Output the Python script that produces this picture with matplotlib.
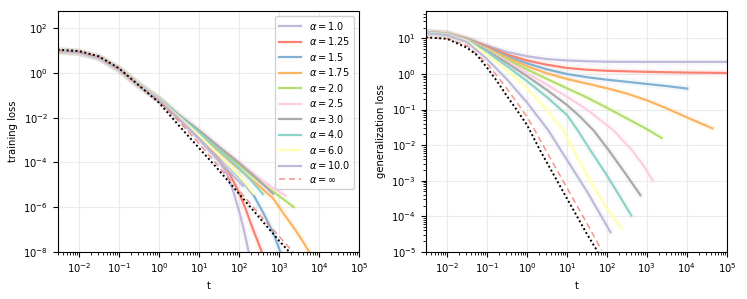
import numpy as np
import matplotlib
matplotlib.use("Agg")
import matplotlib.pyplot as plt

plt.rcParams["font.size"] = 7.2

alphas = ["1.0", "1.25", "1.5", "1.75", "2.0", "2.5", "3.0", "4.0", "6.0", "10.0"]
colors = ["#bebada", "#fb8072", "#80b1d3", "#fdb462", "#b3de69",
          "#fccde5", "#aaaaaa", "#8dd3c7", "#ffffb3", "#bebada"]

# training loss as log10(t), log10(loss)
train_logt = [
    [-2.53, -2, -1.5, -1, -0.5, 0, 0.5, 1, 1.5, 1.7, 1.85, 2.0, 2.12, 2.25],
    [-2.53, -2, -1.5, -1, -0.5, 0, 0.5, 1, 1.5, 1.75, 1.95, 2.15, 2.3, 2.45, 2.58],
    [-2.53, -2, -1.5, -1, -0.5, 0, 0.5, 1, 1.5, 2, 2.37, 2.62, 2.87, 3.04],
    [-2.53, -2, -1.5, -1, -0.5, 0, 0.5, 1, 1.5, 2, 2.5, 2.85, 3.12, 3.4, 3.6, 3.77],
    [-2.53, -2, -1.5, -1, -0.5, 0, 0.5, 1, 1.5, 2, 2.5, 3, 3.37],
    [-2.53, -2, -1.5, -1, -0.5, 0, 0.5, 1, 1.5, 2, 2.5, 2.9, 3.16],
    [-2.53, -2, -1.5, -1, -0.5, 0, 0.5, 1, 1.5, 2, 2.5, 2.85],
    [-2.53, -2, -1.5, -1, -0.5, 0, 0.5, 1, 1.5, 2, 2.3, 2.6],
    [-2.53, -2, -1.5, -1, -0.5, 0, 0.5, 1, 1.5, 2, 2.37],
    [-2.53, -2, -1.5, -1, -0.5, 0, 0.5, 1, 1.5, 2.1],
]
train_logl = [
    [0.98, 0.92, 0.68, 0.16, -0.56, -1.22, -2.05, -2.95, -3.95, -4.5, -5.25, -6.15, -7.0, -8.05],
    [0.99, 0.93, 0.69, 0.17, -0.55, -1.2, -2.02, -2.9, -3.85, -4.45, -5.15, -6.0, -6.75, -7.45, -8.05],
    [1.0, 0.93, 0.7, 0.18, -0.54, -1.18, -1.98, -2.8, -3.7, -4.65, -5.48, -6.3, -7.2, -8.05],
    [1.0, 0.94, 0.71, 0.19, -0.53, -1.16, -1.94, -2.7, -3.5, -4.3, -5.05, -5.6, -6.3, -7.0, -7.55, -8.05],
    [1.01, 0.94, 0.71, 0.2, -0.52, -1.15, -1.9, -2.62, -3.38, -4.1, -4.85, -5.5, -6.0],
    [1.01, 0.94, 0.72, 0.2, -0.52, -1.14, -1.88, -2.55, -3.27, -3.97, -4.7, -5.2, -5.48],
    [1.01, 0.94, 0.72, 0.2, -0.52, -1.14, -1.88, -2.56, -3.3, -4.02, -4.8, -5.4],
    [1.0, 0.94, 0.71, 0.19, -0.53, -1.15, -1.92, -2.66, -3.45, -4.25, -4.8, -5.42],
    [1.0, 0.93, 0.7, 0.18, -0.54, -1.17, -1.97, -2.78, -3.68, -4.6, -5.4],
    [0.99, 0.93, 0.69, 0.17, -0.55, -1.19, -2.02, -2.92, -3.9, -5.05],
]
train_inf_logt = [-2.53, -2, -1.5, -1, -0.5, 0, 0.5, 1, 1.5, 2, 2.5, 3, 3.37]
train_inf_logl = [1.02, 0.95, 0.72, 0.2, -0.56, -1.25, -2.15, -3.15, -4.2, -5.25, -6.3, -7.3, -8.05]
train_th_logt = [-2.53, -2, -1.5, -1, -0.5, 0, 0.5, 1, 1.5, 2, 2.5, 3, 3.28]
train_th_logl = [1.05, 0.99, 0.75, 0.22, -0.55, -1.32, -2.35, -3.35, -4.35, -5.4, -6.45, -7.5, -8.05]

# generalization loss
gen_logt = [
    [-2.53, -2, -1.5, -1, -0.5, 0, 0.5, 1, 1.5, 2, 3, 5],
    [-2.53, -2, -1.5, -1, -0.5, 0, 0.5, 1, 1.5, 2, 3, 4, 5],
    [-2.53, -2, -1.5, -1, -0.5, 0, 0.5, 1, 1.5, 2, 2.5, 3, 3.5, 4.01],
    [-2.53, -2, -1.5, -1, -0.5, 0, 0.5, 1, 1.5, 2, 2.5, 3, 3.5, 4, 4.64],
    [-2.53, -2, -1.5, -1, -0.5, 0, 0.5, 1, 1.5, 2, 2.5, 3, 3.37],
    [-2.53, -2, -1.5, -1, -0.5, 0, 0.5, 1, 1.5, 2.17, 2.63, 2.9, 3.15],
    [-2.53, -2, -1.5, -1, -0.5, 0, 0.5, 1, 1.33, 1.67, 2.05, 2.45, 2.84],
    [-2.53, -2, -1.5, -1, -0.5, 0, 0.5, 1, 1.25, 1.59, 2.0, 2.3, 2.61],
    [-2.53, -2, -1.5, -1, -0.5, 0, 0.5, 0.91, 1.17, 1.67, 2.0, 2.36],
    [-2.53, -2, -1.5, -1, -0.5, 0, 0.54, 0.85, 1.5, 2.09],
]
gen_logl = [
    [1.18, 1.14, 1.0, 0.8, 0.62, 0.5, 0.42, 0.38, 0.36, 0.345, 0.34, 0.34],
    [1.18, 1.14, 0.99, 0.77, 0.55, 0.38, 0.26, 0.17, 0.12, 0.09, 0.06, 0.04, 0.03],
    [1.18, 1.13, 0.98, 0.74, 0.5, 0.3, 0.13, 0.0, -0.09, -0.16, -0.22, -0.28, -0.34, -0.41],
    [1.17, 1.13, 0.97, 0.72, 0.46, 0.22, 0.02, -0.14, -0.27, -0.4, -0.55, -0.74, -0.97, -1.22, -1.53],
    [1.17, 1.13, 0.96, 0.7, 0.41, 0.13, -0.14, -0.4, -0.66, -0.95, -1.25, -1.55, -1.8],
    [1.17, 1.13, 0.96, 0.68, 0.36, 0.03, -0.3, -0.64, -1.0, -1.59, -2.15, -2.55, -3.0],
    [1.17, 1.12, 0.95, 0.66, 0.31, -0.06, -0.45, -0.87, -1.2, -1.59, -2.15, -2.78, -3.41],
    [1.16, 1.12, 0.94, 0.62, 0.22, -0.2, -0.65, -1.15, -1.55, -2.15, -2.85, -3.4, -3.98],
    [1.16, 1.11, 0.93, 0.55, 0.1, -0.4, -1.0, -1.59, -2.15, -3.18, -3.78, -4.34],
    [1.15, 1.1, 0.9, 0.42, -0.15, -0.8, -1.59, -2.15, -3.3, -4.45],
]
gen_inf_logt = [-2.53, -2, -1.5, -1, -0.75, -0.5, -0.25, 0, 0.2, 0.5, 1, 1.5, 1.87]
gen_inf_logl = [1.03, 1.0, 0.8, 0.3, -0.05, -0.42, -0.8, -1.2, -1.59, -2.2, -3.2, -4.2, -4.96]
gen_th_logt = [-2.53, -2, -1.5, -1.25, -1, -0.75, -0.5, -0.25, 0, 0.33, 1, 1.5, 1.77]
gen_th_logl = [1.03, 0.99, 0.74, 0.53, 0.18, -0.2, -0.62, -1.02, -1.43, -2.15, -3.5, -4.5, -5.0]


def draw(ax, logt, logl, inf_t, inf_l, th_t, th_l):
    # faint halo standing in for the many thin per-run curves
    for c, x, y in zip(colors, logt, logl):
        ax.plot(10 ** np.array(x), 10 ** np.array(y), color=c, lw=5,
                alpha=0.08, solid_capstyle="round")
    for a, c, x, y in zip(alphas, colors, logt, logl):
        ax.plot(10 ** np.array(x), 10 ** np.array(y), color=c, lw=1.6,
                label=r"$\alpha = %s$" % a)
    ax.plot(10 ** np.array(inf_t), 10 ** np.array(inf_l), color="#f08078",
            lw=1.1, ls=(0, (4, 2.5)), alpha=0.85, label=r"$\alpha = \infty$")
    ax.plot(10 ** np.array(th_t), 10 ** np.array(th_l), color="black",
            lw=1.4, ls=(0, (1, 1.3)))
    ax.set_xscale("log")
    ax.set_yscale("log")
    ax.set_xlim(10 ** -2.53, 1e5)
    ax.grid(True, color="#ebebeb", lw=0.8)
    ax.set_axisbelow(True)
    ax.set_xlabel("t")
    for s in ax.spines.values():
        s.set_linewidth(0.8)


fig = plt.figure(figsize=(7.47, 2.99), dpi=100)
ax1 = fig.add_axes([0.0772, 0.158, 0.4034, 0.805])
ax2 = fig.add_axes([0.570, 0.158, 0.403, 0.805])

draw(ax1, train_logt, train_logl, train_inf_logt, train_inf_logl, train_th_logt, train_th_logl)
ax1.set_ylim(1e-8, 10 ** 2.78)
ax1.set_ylabel("training loss")
ax1.legend(loc="upper right", fontsize=7, labelspacing=0.36, handlelength=2.3,
           handletextpad=0.8, borderaxespad=0.5, framealpha=0.9, edgecolor="#cccccc")

draw(ax2, gen_logt, gen_logl, gen_inf_logt, gen_inf_logl, gen_th_logt, gen_th_logl)
ax2.set_ylim(1e-5, 10 ** 1.77)
ax2.set_ylabel("generalization loss")

fig.savefig("out.png", dpi=100)
